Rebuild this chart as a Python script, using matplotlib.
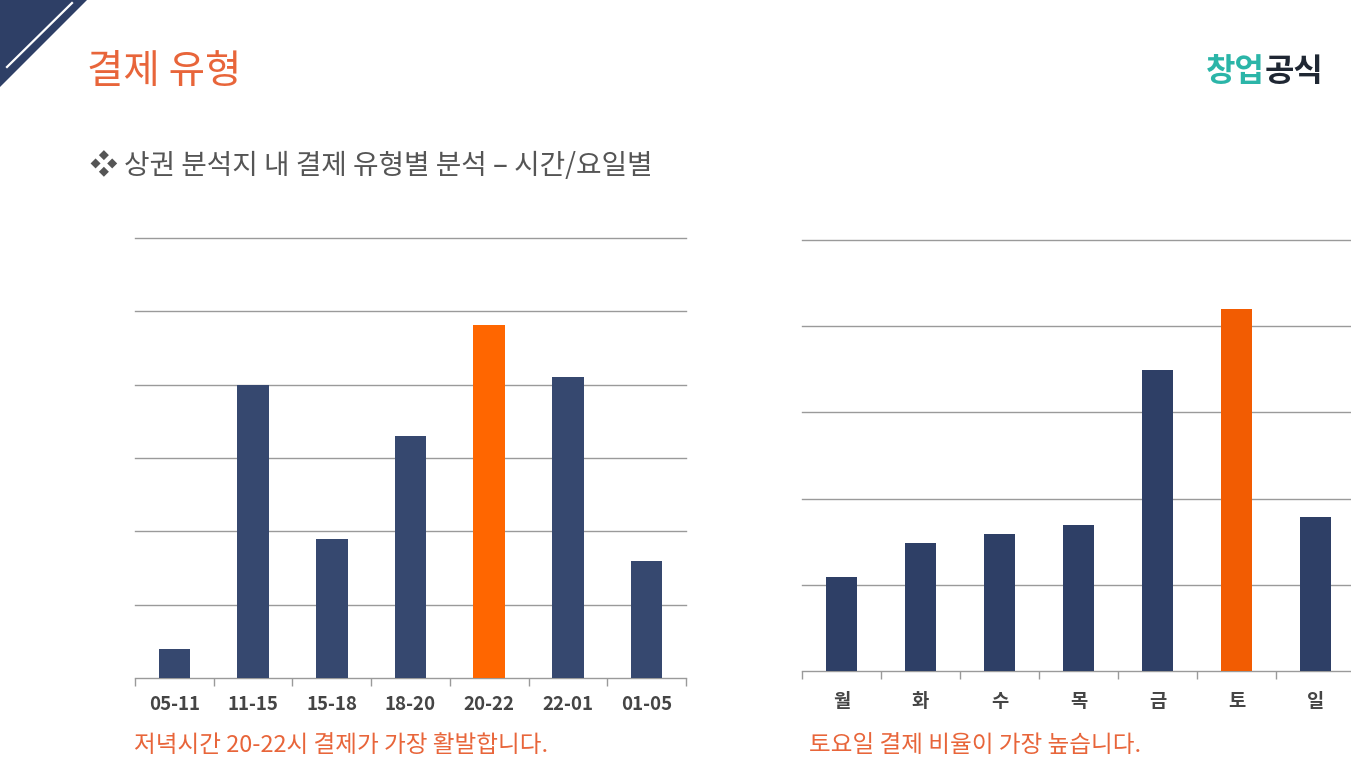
import matplotlib
matplotlib.use("Agg")
import matplotlib.pyplot as plt
from matplotlib.patches import Polygon
from matplotlib.lines import Line2D
import numpy as np

plt.rcParams['font.family'] = ['Noto Sans CJK KR', 'DejaVu Sans']

# Data
time_labels = ["05-11", "11-15", "15-18", "18-20", "20-22", "22-01", "01-05"]
time_values = [2.0, 20.0, 9.5, 16.5, 24.1, 20.5, 8.0]   # % share
day_labels = ["월", "화", "수", "목", "금", "토", "일"]
day_values = [1.09, 1.49, 1.59, 1.69, 3.49, 4.20, 1.79]
time_highlight = "20-22"
day_highlight = "토"

W, H = 1351, 772
fig = plt.figure(figsize=(W / 100, H / 100), dpi=100)
fig.patch.set_facecolor("white")

NAVY_L = "#36486F"
NAVY_R = "#2E3F66"
ORANGE_L = "#FF6600"
ORANGE_R = "#F25C02"
TXT_ORANGE = "#E8653A"
GRID = "#9A9A9A"


def fx(x):
    return x / W


def fy(y):
    return 1 - y / H


# Corner decoration
fig.patches.append(Polygon([[fx(0), fy(0)], [fx(87), fy(0)], [fx(0), fy(87)]],
                           closed=True, transform=fig.transFigure,
                           facecolor="#2E3F66", edgecolor="none"))
fig.lines.append(Line2D([fx(72), fx(7)], [fy(3), fy(67)], transform=fig.transFigure,
                        color="white", lw=1.6))

# Title
fig.text(fx(87), fy(72), "결제 유형", fontsize=28.5, color=TXT_ORANGE,
         ha="left", va="center")

# Logo
fig.text(fx(1206), fy(72), "창업", fontsize=23, fontweight="black", color="#2BB5A8",
         ha="left", va="center")
fig.text(fx(1265), fy(72), "공식", fontsize=23, fontweight="black", color="#1F2733",
         ha="left", va="center")

# Subtitle
fig.text(fx(90), fy(166), "❖ 상권 분석지 내 결제 유형별 분석 – 시간/요일별", fontsize=20,
         color="#555555", ha="left", va="center")


def draw_bars(ax, labels, values, highlight, navy, orange, ymax, step, label_pad):
    x = np.arange(len(labels))
    colors = [orange if l == highlight else navy for l in labels]
    ax.bar(x, values, width=0.4, color=colors, zorder=3)
    ax.set_xlim(-0.5, len(labels) - 0.5)
    ax.set_ylim(0, ymax)
    for v in np.arange(step, ymax + step / 2, step):
        ax.axhline(v, color=GRID, lw=1, zorder=1, clip_on=False)
    for s in ["top", "right", "left"]:
        ax.spines[s].set_visible(False)
    ax.spines["bottom"].set_color(GRID)
    ax.spines["bottom"].set_linewidth(1)
    ax.set_yticks([])
    ax.set_xticks(x)
    ax.set_xticklabels(labels, fontsize=13.5, fontweight="bold", color="#454545")
    ax.tick_params(axis="x", which="major", length=0, pad=label_pad)
    ax.set_xticks(np.arange(-0.5, len(labels), 1.0), minor=True)
    ax.tick_params(axis="x", which="minor", length=6, color=GRID, width=1)
    ax.patch.set_alpha(0)


ax1 = fig.add_axes([fx(135), fy(678), fx(686) - fx(135), fy(238) - fy(678)])
draw_bars(ax1, time_labels, time_values, time_highlight, NAVY_L, ORANGE_L, 30, 5, 12)

ax2 = fig.add_axes([fx(802), fy(671), fx(1355) - fx(802), fy(240) - fy(671)])
draw_bars(ax2, day_labels, day_values, day_highlight, NAVY_R, ORANGE_R, 5, 1, 15)

# Captions
fig.text(fx(134), fy(745), "저녁시간 20-22시 결제가 가장 활발합니다.", fontsize=17,
         color=TXT_ORANGE, ha="left", va="center")
fig.text(fx(809), fy(745), "토요일 결제 비율이 가장 높습니다.", fontsize=17,
         color=TXT_ORANGE, ha="left", va="center")

fig.savefig("out.png", dpi=100, facecolor="white")
